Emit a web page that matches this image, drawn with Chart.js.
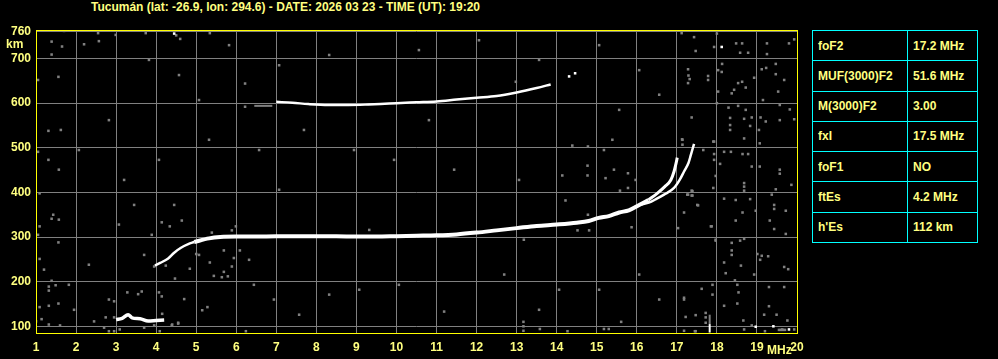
<!DOCTYPE html>
<html>
<head>
<meta charset="utf-8">
<script src="https://cdn.jsdelivr.net/npm/chart.js@4.4.1/dist/chart.umd.min.js"></script>
<style>
body { margin: 0; background: #000; width: 998px; height: 359px; overflow: hidden; position: relative;
       font-family: "Liberation Sans", Arial, sans-serif; font-weight: bold; font-size: 12px; color: #ffff80; }
#title { position: absolute; left: 91px; top: 0; line-height: 14px; white-space: nowrap; }
#chartBox { position: absolute; left: 0; top: 0; width: 812px; height: 359px; }
#params { position: absolute; left: 812px; top: 30px; width: 166px; height: 213px; border-collapse: collapse; }
#params td { border: 1px solid #00ffff; padding: 0 0 0 5px; vertical-align: middle; white-space: nowrap; }
#params td.k { width: 89px; }
</style>
</head>
<body>
<div id="title">Tucumán (lat: -26.9, lon: 294.6) - DATE: 2026 03 23 - TIME (UT): 19:20</div>
<div id="chartBox"><canvas id="iono" width="812" height="359"></canvas></div>
<table id="params">
  <tr><td class="k">foF2</td><td>17.2 MHz</td></tr>
  <tr><td class="k">MUF(3000)F2</td><td>51.6 MHz</td></tr>
  <tr><td class="k">M(3000)F2</td><td>3.00</td></tr>
  <tr><td class="k">fxI</td><td>17.5 MHz</td></tr>
  <tr><td class="k">foF1</td><td>NO</td></tr>
  <tr><td class="k">ftEs</td><td>4.2 MHz</td></tr>
  <tr><td class="k">h'Es</td><td>112 km</td></tr>
</table>
<script>
// frequency axis (MHz) and virtual height axis (km)
const freqTicks = [1, 2, 3, 4, 5, 6, 7, 8, 9, 10, 11, 12, 13, 14, 15, 16, 17, 18, 19, 20];
const heightTicks = [100, 200, 300, 400, 500, 600, 700, 760];

// sporadic E trace
const esFreq = [3.0, 3.15, 3.3, 3.4, 3.6, 3.8, 4.0, 4.2];
const esHeight = [115, 118, 126, 119, 117, 112, 113, 114];

// F2 ordinary trace: faint start, main trace, thin cusp
const f2LeadFreq = [3.97, 4.1, 4.3, 4.45, 4.62, 4.8, 4.95];
const f2LeadHeight = [236, 242, 252, 265, 276, 284, 289];
const f2OFreq = [4.95, 5.32, 5.6, 6.0, 6.5, 7.0, 7.5, 8.0, 8.5, 9.0, 9.5, 10.0, 10.5, 11.0, 11.5, 12.0, 12.5, 13.0,
                 13.5, 14.0, 14.5, 14.8, 15.05, 15.3, 15.56, 15.8, 16.06, 16.29];
const f2OHeight = [289, 297, 300, 301, 301, 302, 302, 302, 302, 301, 301, 302, 303, 304, 306, 310, 315, 320,
                   325, 328, 332, 336, 343, 347, 355, 360, 372, 383];
const f2CuspFreq = [16.29, 16.51, 16.7, 16.85, 16.93, 16.98, 17.01];
const f2CuspHeight = [383, 398, 413, 428, 447, 465, 478];

// F2 extraordinary trace
const f2XFreq = [16.06, 16.3, 16.5, 16.68, 16.93, 17.07, 17.18, 17.29, 17.35, 17.43];
const f2XHeight = [372, 377, 386, 395, 410, 428, 447, 466, 484, 509];

// second hop F2
const hop2Freq = [7.0, 7.4, 7.8, 8.3, 8.8, 9.3, 9.6, 10.0, 10.5, 11.0, 11.5, 12.0, 12.5, 13.0, 13.5, 13.85];
const hop2Height = [603, 601, 598, 596, 596, 597, 598, 600, 602, 604, 608, 612, 616, 624, 634, 642];
const hop2GreyFreq = [6.45, 6.9];
const hop2GreyHeight = [594, 594];

// interference spike near 17.8 MHz
const spikeFreq = [17.82, 17.82];
const spikeHeight = [86, 105];
const spikeGreyHeight = [105, 126];

// bright isolated echoes
const whiteDots = [[18.12, 726], [18.97, 99], [19.41, 100], [19.8, 93], [4.45, 756], [14.31, 660], [14.46, 667]];

// grey noise echoes
const noiseDots = [
  [1.7,762],[2.55,757],[2.99,753],[3.74,757],[4.5,752],[4.6,744],[5.34,757],
  [1.39,738],[1.39,709],[1.05,652],[1.56,659],[1.31,538],[1.05,491],[1.31,473],[1.09,398],[1.43,350],[1.39,341],
  [1.09,324],[1.05,305],[1.56,288],[1.09,251],[1.39,202],[1.32,189],[1.49,192],[1.32,180],[1.56,151],[1.32,146],
  [1.09,143],[1.0,111],[1.14,116],[1.32,104],
  [1.6,102],[2.45,111],[2.7,97],[2.82,89],[2.95,89],[3.09,93],[3.7,97],[3.95,102],[4.09,89],[4.39,102],[4.55,106],
  [6.24,89],[13.17,90],[13.17,100],[13.17,110],[13.58,94],[14.27,89],[15.18,94],[15.3,94],[15.61,110],[17.47,89],
  [3.28,176],[3.55,172],[3.64,178],[2.95,156],[4.07,176],[4.14,167],[4.7,161],[5.15,136],[5.28,143],[2.74,120],
  [2.95,120],[4.4,104],[4.55,108],[4.15,128],
  [4.14,333],[4.34,324],[4.64,337],[3.89,305],[5.39,310],[5.89,315],[5.99,324],[5.0,262],[5.69,270],[6.09,270],
  [5.94,253],[5.34,243],[5.89,234],[4.84,229],[3.95,234],[4.24,236],[5.69,222],[5.44,213],[5.64,210],[5.79,212],[4.47,207],
  [6.22,644],[6.22,592],[12.98,648],
  [14.39,505],[14.78,503],[15.39,518],[15.18,495],[17.66,495],[17.91,514],[17.93,486],[17.93,473],[17.14,518],[17.14,507],
  [14.77,460],[14.77,438],[14.14,438],[15.43,451],[15.78,443],[15.22,432],[15.97,428],[15.58,404],[15.78,410],[14.22,382],
  [17.26,395],[17.37,404],[17.37,393],[17.91,410],[17.51,372],[17.18,355],[14.78,350],[15.87,322],[17.85,324],[17.03,320],
  [14.52,315],[14.81,315],[17.97,294],
  [1.65,727],[2.2,732],[2.57,739],[1.62,540],[1.57,339],[1.2,227],[1.82,193],[2.32,238],[1.95,137],[2.82,160],[3.07,328],
  [3.45,372],[3.7,260],[3.2,428],[4.07,473],[4.45,372],[5.07,260],[5.32,518],[6.32,249],[6.44,193],[6.94,160],[7.57,126],
  [8.32,171],[9.07,182],[10.06,193],[11.19,133],[12.69,216],[13.18,294],[13.56,137],[14.06,182],[15.06,182],[16.06,216],
  [16.56,160],[11.44,451],[9.94,473],[8.94,495],[7.69,540],[3.82,697],[4.57,663],[5.82,730],[7.07,685],[8.32,708],
  [10.56,719],[12.06,741],[13.56,697],[15.06,730],[16.06,674],[16.56,619],[15.56,585],[5.07,607],[2.82,562],[2.07,495],
  [1.57,451],[6.57,495],[13.06,428],[10.81,562],[9.32,316],[7.07,406],
  [17.12,757],[17.43,748],[18.0,756],[18.48,734],[18.63,734],[19.25,734],[19.8,734],[19.93,743],[17.47,717],[17.93,726],
  [18.58,713],[18.78,713],[19.25,710],[17.28,676],[17.29,662],[17.78,661],[17.78,652],[17.32,654],[17.28,645],[18.13,688],
  [18.03,674],[18.12,670],[18.53,645],[18.63,648],[18.93,657],[19.12,676],[19.23,679],[19.47,688],[19.47,665],[19.68,652],
  [19.53,626],[18.43,630],[18.37,622],[18.72,635],[18.03,626],[19.15,607],[18.0,600],[17.37,568],[18.29,590],[18.53,594],
  [18.72,585],[18.33,567],[18.33,551],[18.33,540],[18.68,565],[18.87,568],[19.05,540],[19.09,568],[19.22,559],[19.57,596],
  [19.57,562],[19.82,586],[19.93,564],[18.83,549],[18.68,521],[17.93,514],[19.07,510],[17.13,519],[18.18,491],[18.35,491],
  [18.64,486],[18.78,486],[18.08,464],[18.87,458],[19.07,458],[19.57,451],[19.57,442],[17.97,437],[18.68,421],[18.68,413],
  [18.68,404],[19.86,417],[19.47,407],[17.39,403],[17.39,393],[17.28,395],[18.18,386],[18.47,383],[18.83,385],[19.37,395],
  [17.53,371],[19.43,372],[19.43,363],[19.72,359],[18.64,355],[18.97,359],[19.32,337],[18.47,337],[17.87,324],[19.43,318],
  [19.72,307],[17.97,292],[18.37,287],[18.58,292],[18.68,296],[18.37,270],[18.37,260],[19.01,262],[19.12,258],[19.28,257],
  [19.08,249],[18.18,243],[18.6,236],[19.68,233],[19.78,228],[18.22,219],[18.93,216],[18.45,203],[18.51,193],[18.54,176],
  [17.89,193],[17.62,184],[19.3,188],[19.68,188],[17.18,164],[17.89,171],[17.18,160],[17.72,130],[17.72,120],[17.72,108],
  [18.18,146],[18.51,151],[19.3,145],[19.18,126],[19.49,126],[19.76,113],[18.66,113],[17.22,121],[17.47,125],[18.87,102],
  [19.63,93],[19.93,93],[17.18,90],[17.45,89],[19.2,89],[18.68,93],[19.55,92],[19.6,92],[19.65,92],[19.7,92]
];

const pts = (fs, hs) => fs.map((f, i) => ({ x: f, y: hs[i] }));
const dots = list => list.map(p => ({ x: p[0], y: p[1] }));

const GREY = '#808080';
const WHITE = '#ffffff';
const LABEL = '#ffff80';

function trace(data, color, width) {
  return {
    data: data, showLine: true, borderColor: color, borderWidth: width, pointRadius: 0,
    cubicInterpolationMode: 'monotone', borderCapStyle: 'butt', fill: false, order: 1
  };
}

const framePlugin = {
  id: 'frame',
  afterDraw(chart) {
    const { ctx, chartArea: a } = chart;
    ctx.save();
    ctx.strokeStyle = '#ffff00';
    ctx.lineWidth = 1;
    ctx.strokeRect(a.left + 0.5, a.top + 0.5, a.right - a.left, a.bottom - a.top);
    ctx.fillStyle = LABEL;
    ctx.font = 'bold 12px "Liberation Sans"';
    ctx.textBaseline = 'middle';
    ctx.textAlign = 'left';
    ctx.fillText('km', 6, 45);
    ctx.fillText('MHz', 767, 351);
    ctx.restore();
  }
};

new Chart(document.getElementById('iono').getContext('2d'), {
  type: 'scatter',
  data: {
    datasets: [
      trace(pts(f2OFreq, f2OHeight), WHITE, 4),
      trace(pts(f2CuspFreq, f2CuspHeight), WHITE, 3),
      trace(pts(f2LeadFreq, f2LeadHeight), WHITE, 2.5),
      trace(pts(f2XFreq, f2XHeight), WHITE, 2.5),
      trace(pts(hop2Freq, hop2Height), WHITE, 2.5),
      trace(pts(hop2GreyFreq, hop2GreyHeight), GREY, 2),
      trace(pts(esFreq, esHeight), WHITE, 3.5),
      trace(pts(spikeFreq, spikeHeight), WHITE, 2),
      trace(pts(spikeFreq, spikeGreyHeight), GREY, 2),
      { data: dots(whiteDots), pointStyle: 'rect', pointRadius: 1.8, backgroundColor: WHITE, borderWidth: 0, order: 2 },
      { data: dots(noiseDots), pointStyle: 'rect', pointRadius: 1.8, backgroundColor: GREY, borderWidth: 0, order: 3 }
    ]
  },
  options: {
    responsive: false,
    animation: false,
    devicePixelRatio: 1,
    events: [],
    layout: { padding: { top: 30, right: 15, left: 0, bottom: 0 } },
    plugins: { legend: { display: false }, tooltip: { enabled: false } },
    scales: {
      x: {
        type: 'linear', min: 1, max: 20,
        afterFit: s => { s.height = 26; },
        afterBuildTicks: s => { s.ticks = freqTicks.map(v => ({ value: v })); },
        grid: { color: GREY, lineWidth: 1, drawTicks: false },
        border: { display: false },
        ticks: { color: LABEL, padding: 7, font: { family: 'Liberation Sans', weight: 'bold', size: 12 }, maxRotation: 0, autoSkip: false }
      },
      y: {
        type: 'linear', min: 85, max: 764,
        afterFit: s => { s.width = 36; },
        afterBuildTicks: s => { s.ticks = heightTicks.map(v => ({ value: v })); },
        grid: { color: GREY, lineWidth: 1, drawTicks: false },
        border: { display: false },
        ticks: { color: LABEL, padding: 5, font: { family: 'Liberation Sans', weight: 'bold', size: 12 }, autoSkip: false }
      }
    }
  },
  plugins: [framePlugin]
});
</script>
</body>
</html>
